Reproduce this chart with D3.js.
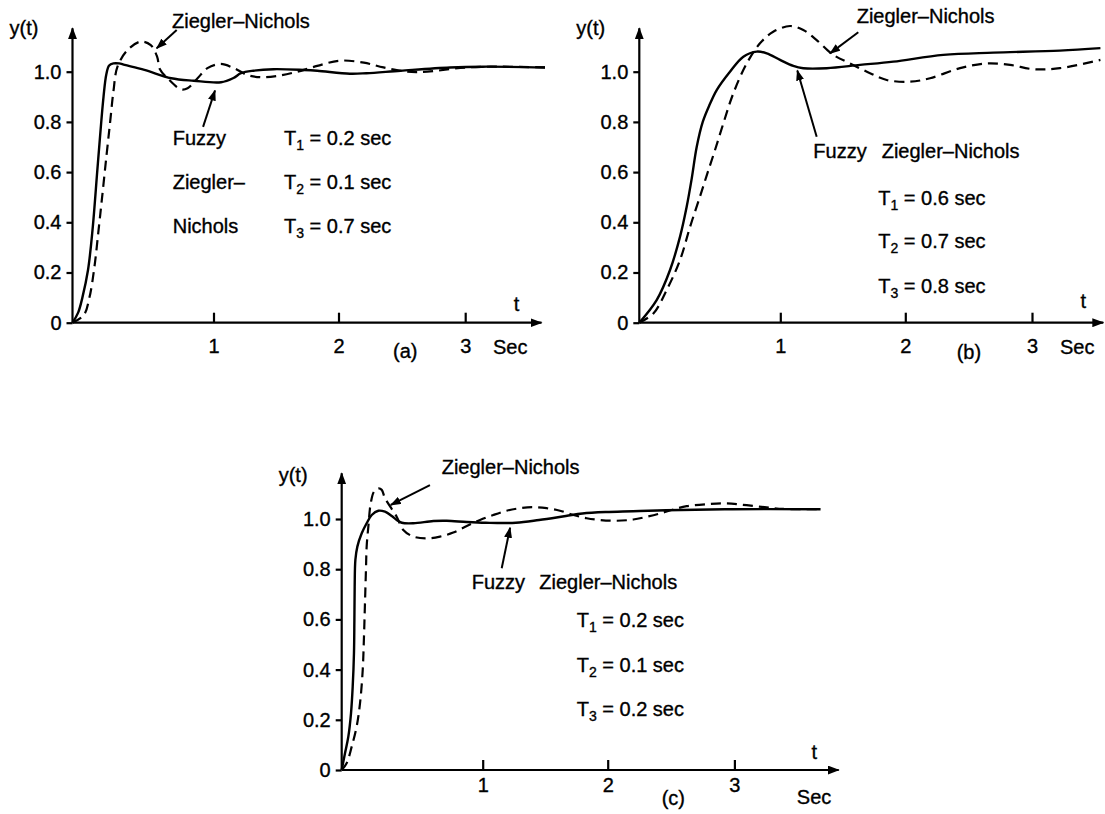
<!DOCTYPE html>
<html>
<head>
<meta charset="utf-8">
<script src="https://cdn.jsdelivr.net/npm/d3@7"></script>
<style>
  body { margin: 0; background: #fff; }
  text { font-family: "Liberation Sans", Arial, sans-serif; font-size: 20px; fill: #000; stroke: #000; stroke-width: 0.35px; }
</style>
</head>
<body>
<div id="chart"></div>
<script>
// tick values shared by all three panels
var tTicks = [1, 2, 3];
var yTicks = [0, 0.2, 0.4, 0.6, 0.8, 1.0];

// step responses, [t (sec), y(t)]
var fuzzyA = [[0,0],[0.04,0.04],[0.07,0.1],[0.11,0.21],[0.142,0.37],[0.18,0.635],[0.22,0.9],[0.24,0.99],
  [0.26,1.025],[0.29,1.033],[0.33,1.033],[0.37,1.027],[0.51,1.007],[0.7,0.974],[0.86,0.964],[1.06,0.958],
  [1.16,0.975],[1.22,0.994],[1.32,1.004],[1.48,1.01],[1.72,1.007],[1.83,1.004],[2.09,0.992],[2.22,0.994],
  [2.49,1.004],[2.88,1.017],[3.14,1.02],[3.63,1.017]];
var zieglerA = [[0,0],[0.08,0.03],[0.12,0.1],[0.155,0.22],[0.185,0.37],[0.21,0.5],[0.24,0.66],[0.267,0.8],
  [0.29,0.92],[0.319,1.02],[0.39,1.086],[0.484,1.12],[0.555,1.106],[0.6,1.06],[0.62,1.01],[0.674,0.974],
  [0.768,0.93],[0.816,0.934],[0.887,0.974],[0.957,1.014],[1.058,1.031],[1.164,1.014],[1.27,0.987],[1.377,0.978],
  [1.508,0.983],[1.67,1.0],[1.83,1.023],[2.01,1.044],[2.2,1.036],[2.355,1.017],[2.54,1.0],[2.7,1.0],
  [2.96,1.015],[3.2,1.02],[3.63,1.017]];

var fuzzyB = [[0,0],[0.123,0.09],[0.218,0.21],[0.289,0.343],[0.336,0.462],[0.372,0.575],[0.407,0.70],
  [0.45,0.80],[0.5,0.87],[0.549,0.927],[0.643,1.0],[0.738,1.06],[0.833,1.08],[0.904,1.073],[0.998,1.047],
  [1.104,1.023],[1.184,1.014],[1.371,1.014],[1.638,1.027],[1.904,1.04],[2.3,1.067],[2.696,1.076],[3.22,1.084],
  [3.54,1.094]];
var zieglerB = [[0,0],[0.1,0.037],[0.194,0.13],[0.289,0.25],[0.36,0.382],[0.43,0.502],[0.48,0.59],[0.537,0.688],
  [0.596,0.794],[0.667,0.914],[0.762,1.033],[0.856,1.113],[0.95,1.159],[1.078,1.182],[1.184,1.166],[1.291,1.126],
  [1.424,1.067],[1.558,1.033],[1.718,0.994],[1.851,0.967],[2.037,0.96],[2.195,0.974],[2.432,1.014],[2.643,1.033],
  [2.827,1.027],[3.011,1.01],[3.22,1.014],[3.54,1.047]];

var fuzzyC = [[0,0],[0.023,0.066],[0.047,0.133],[0.066,0.226],[0.078,0.332],[0.087,0.465],[0.09,0.598],
  [0.092,0.73],[0.097,0.837],[0.111,0.89],[0.142,0.943],[0.177,0.983],[0.213,1.016],[0.26,1.033],[0.307,1.029],
  [0.355,1.012],[0.39,0.996],[0.426,0.985],[0.508,0.983],[0.65,0.992],[0.745,0.993],[0.887,0.988],[1.025,0.985],
  [1.265,0.985],[1.451,0.996],[1.665,1.012],[1.798,1.022],[1.985,1.028],[2.2,1.031],[2.46,1.035],[2.985,1.039],
  [3.68,1.039]];
var zieglerC = [[0,0],[0.035,0.027],[0.071,0.093],[0.106,0.173],[0.13,0.266],[0.149,0.398],[0.158,0.531],
  [0.165,0.664],[0.172,0.797],[0.177,0.89],[0.189,0.97],[0.206,1.063],[0.229,1.109],[0.26,1.122],[0.284,1.116],
  [0.307,1.083],[0.39,1.009],[0.437,0.956],[0.508,0.93],[0.603,0.923],[0.697,0.93],[0.791,0.946],[0.887,0.972],
  [0.981,0.996],[1.085,1.016],[1.192,1.033],[1.298,1.043],[1.405,1.047],[1.512,1.043],[1.618,1.033],[1.725,1.016],
  [1.832,1.003],[1.938,0.996],[2.071,0.993],[2.202,0.998],[2.308,1.009],[2.413,1.022],[2.518,1.038],[2.623,1.051],
  [2.781,1.059],[2.939,1.062],[3.097,1.055],[3.255,1.046],[3.387,1.04],[3.68,1.039]];

// controller time constants T1, T2, T3 per panel
var paramsA = ["0.2", "0.1", "0.7"];
var paramsB = ["0.6", "0.7", "0.8"];
var paramsC = ["0.2", "0.1", "0.2"];

// arrows: [tail, head] in (t, y)
var arrowsA = [[[0.739,1.166],[0.597,1.093]], [[0.926,0.78],[1.012,0.925]]];
var arrowsB = [[[1.624,1.157],[1.398,1.073]], [[1.291,0.741],[1.136,1.005]]];
var arrowsC = [[[0.626,1.135],[0.348,1.056]], [[1.152,0.804],[1.219,0.965]]];

var svg = d3.select("#chart")
  .append("svg")
    .attr("width", 1105)
    .attr("height", 814);

var defs = svg.append("defs");
defs.append("marker")
    .attr("id", "axisHead")
    .attr("markerUnits", "userSpaceOnUse")
    .attr("markerWidth", 12).attr("markerHeight", 9)
    .attr("refX", 11).attr("refY", 4.5)
    .attr("orient", "auto")
  .append("path")
    .attr("d", "M0,0L12,4.5L0,9Z")
    .attr("fill", "#000");
defs.append("marker")
    .attr("id", "noteHead")
    .attr("markerUnits", "userSpaceOnUse")
    .attr("markerWidth", 11).attr("markerHeight", 8)
    .attr("refX", 10).attr("refY", 4)
    .attr("orient", "auto")
  .append("path")
    .attr("d", "M0,0L11,4L0,8Z")
    .attr("fill", "#000");

// the printed t axis is not evenly spaced from the origin, so the scale is piecewise
var tDomain = [0, 1, 2, 3];
var tRange = [0, 141, 266, 392.7];

function drawPanel(p) {
  var g = svg.append("g").attr("transform", "translate(" + p.ox + "," + p.oy + ")");

  var x = d3.scaleLinear().domain(tDomain).range(tRange);
  var y = d3.scaleLinear().domain([0, 1]).range([0, -251]);

  // y ticks and labels
  var ya = g.append("g")
    .call(d3.axisLeft(y)
      .tickValues(yTicks)
      .tickSize(6)
      .tickPadding(5)
      .tickFormat(function(d) { return d === 0 ? "0" : d3.format(".1f")(d); }));
  ya.attr("font-size", null).attr("font-family", null);
  ya.select(".domain").remove();
  ya.selectAll(".tick line").attr("stroke-width", 2.2);

  // t ticks point up into the plot
  var xa = g.append("g")
    .call(d3.axisBottom(x)
      .tickValues(tTicks)
      .tickSizeInner(-10)
      .tickSizeOuter(0)
      .tickPadding(p.tickPad)
      .tickFormat(d3.format("d")));
  xa.attr("font-size", null).attr("font-family", null);
  xa.select(".domain").remove();
  xa.selectAll(".tick line").attr("stroke-width", 2.2);

  // axis lines with arrow heads
  g.append("line")
    .attr("x1", 0).attr("y1", 0).attr("x2", p.xLen).attr("y2", 0)
    .attr("stroke", "#000").attr("stroke-width", 2.2)
    .attr("marker-end", "url(#axisHead)");
  g.append("line")
    .attr("x1", 0).attr("y1", 0).attr("x2", 0).attr("y2", p.yTop)
    .attr("stroke", "#000").attr("stroke-width", 2.2)
    .attr("marker-end", "url(#axisHead)");

  // curves
  var line = d3.line()
    .x(function(d) { return x(d[0]); })
    .y(function(d) { return y(d[1]); })
    .curve(d3.curveCatmullRom.alpha(0.5));

  g.append("path")
    .datum(p.zn)
    .attr("fill", "none")
    .attr("stroke", "#000")
    .attr("stroke-width", 2.2)
    .attr("stroke-dasharray", "10,6")
    .attr("d", line);
  g.append("path")
    .datum(p.fuzzy)
    .attr("fill", "none")
    .attr("stroke", "#000")
    .attr("stroke-width", 2.4)
    .attr("d", line);

  // annotation arrows
  g.selectAll(".note")
    .data(p.arrows)
    .enter()
    .append("line")
      .attr("x1", function(d) { return x(d[0][0]); })
      .attr("y1", function(d) { return y(d[0][1]); })
      .attr("x2", function(d) { return x(d[1][0]); })
      .attr("y2", function(d) { return y(d[1][1]); })
      .attr("stroke", "#000")
      .attr("stroke-width", 2)
      .attr("marker-end", "url(#noteHead)");

  // axis captions
  g.append("text").attr("x", -63).attr("y", -288).text("y(t)");
  g.append("text").attr("x", p.tLab[0]).attr("y", p.tLab[1]).attr("text-anchor", "middle").text("t");
  g.append("text").attr("x", p.secLab[0]).attr("y", p.secLab[1]).text("Sec");
  g.append("text").attr("x", p.figLab[0]).attr("y", p.figLab[1]).text(p.name);
  g.append("text").attr("x", p.znLab[0]).attr("y", p.znLab[1]).text("Ziegler\u2013Nichols");

  // legend words
  p.words.forEach(function(w) {
    g.append("text").attr("x", w[1]).attr("y", w[2]).text(w[0]);
  });

  // T1, T2, T3 rows
  p.params.forEach(function(v, i) {
    var t = g.append("text").attr("x", p.tx).attr("y", p.ty[i]);
    t.append("tspan").text("T");
    t.append("tspan").attr("dy", 5).style("font-size", "14px").text(i + 1);
    t.append("tspan").attr("dy", -5).text(" = " + v + " sec");
  });
}

drawPanel({
  name: "(a)", ox: 72.5, oy: 322.7, xLen: 469, yTop: -294.5, tickPad: 16,
  fuzzy: fuzzyA, zn: zieglerA, arrows: arrowsA, params: paramsA,
  tLab: [444, -11.7], secLab: [420.5, 31.3], figLab: [320.5, 35.3], znLab: [99.5, -294.7],
  words: [["Fuzzy", 100.2, -177.7], ["Ziegler\u2013", 100.2, -133.7], ["Nichols", 100.2, -89.7]],
  tx: 211.5, ty: [-177.7, -133.7, -89.7]
});

drawPanel({
  name: "(b)", ox: 639.3, oy: 322.7, xLen: 464, yTop: -294.5, tickPad: 16,
  fuzzy: fuzzyB, zn: zieglerB, arrows: arrowsB, params: paramsB,
  tLab: [444, -14.7], secLab: [420.7, 31.3], figLab: [317.4, 36.3], znLab: [217.4, -299.7],
  words: [["Fuzzy", 174, -164.7], ["Ziegler\u2013Nichols", 242.4, -164.7]],
  tx: 239, ty: [-117.7, -74.7, -29.7]
});

drawPanel({
  name: "(c)", ox: 341.7, oy: 770, xLen: 497, yTop: -296.7, tickPad: 8,
  fuzzy: fuzzyC, zn: zieglerC, arrows: arrowsC, params: paramsC,
  tLab: [472.7, -11], secLab: [455.1, 34], figLab: [320, 35], znLab: [100, -296.5],
  words: [["Fuzzy", 130, -181], ["Ziegler\u2013Nichols", 197.6, -181]],
  tx: 235, ty: [-143, -98, -54]
});
</script>
</body>
</html>
